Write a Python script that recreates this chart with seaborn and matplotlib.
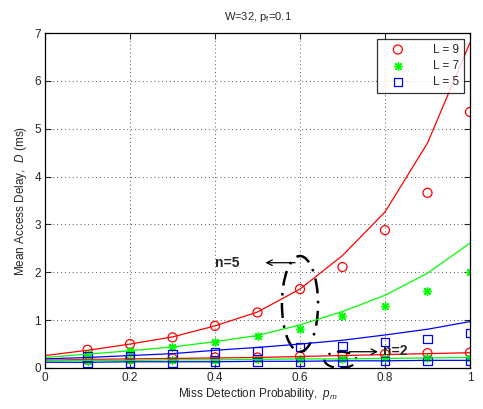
import numpy as np
import pandas as pd
import matplotlib
matplotlib.use("Agg")
import matplotlib.pyplot as plt
import seaborn as sns
from matplotlib.patches import Ellipse

# analysis curves, evaluated at p_m = 0, 0.1, ..., 1
p_line = [0.0, 0.1, 0.2, 0.3, 0.4, 0.5, 0.6, 0.7, 0.8, 0.9, 1.0]
line_n5_L9 = [0.26, 0.37, 0.50, 0.65, 0.88, 1.17, 1.65, 2.35, 3.26, 4.70, 6.80]
line_n5_L7 = [0.22, 0.29, 0.36, 0.44, 0.55, 0.68, 0.90, 1.18, 1.52, 1.98, 2.61]
line_n5_L5 = [0.19, 0.22, 0.26, 0.30, 0.37, 0.43, 0.50, 0.58, 0.69, 0.81, 0.97]
line_n2_L9 = [0.16, 0.18, 0.19, 0.20, 0.21, 0.22, 0.24, 0.26, 0.28, 0.30, 0.32]
line_n2_L7 = [0.15, 0.16, 0.16, 0.17, 0.17, 0.18, 0.19, 0.19, 0.20, 0.21, 0.22]
line_n2_L5 = [0.12, 0.12, 0.13, 0.13, 0.13, 0.14, 0.14, 0.15, 0.15, 0.16, 0.16]

# simulation results, at p_m = 0.1, ..., 1
p_sim = [0.1, 0.2, 0.3, 0.4, 0.5, 0.6, 0.7, 0.8, 0.9, 1.0]
sim_n5_L9 = [0.38, 0.50, 0.64, 0.88, 1.16, 1.65, 2.11, 2.88, 3.66, 5.35]
sim_n5_L7 = [0.29, 0.36, 0.43, 0.54, 0.66, 0.81, 1.09, 1.30, 1.60, 2.00]
sim_n5_L5 = [0.24, 0.25, 0.29, 0.34, 0.36, 0.44, 0.46, 0.54, 0.61, 0.73]
sim_n2_L9 = [0.17, 0.19, 0.20, 0.22, 0.22, 0.24, 0.26, 0.29, 0.31, 0.32]
sim_n2_L7 = [0.15, 0.16, 0.16, 0.17, 0.18, 0.18, 0.19, 0.20, 0.20, 0.21]
sim_n2_L5 = [0.10, 0.11, 0.11, 0.12, 0.12, 0.13, 0.13, 0.14, 0.14, 0.15]

x_ticks = [0, 0.2, 0.4, 0.6, 0.8, 1]
x_ticklabels = ["0", "0.2", "0.4", "0.6", "0.8", "1"]
y_ticks = [0, 1, 2, 3, 4, 5, 6, 7]

lines = pd.DataFrame({
    "p": p_line * 6,
    "D": line_n5_L9 + line_n5_L7 + line_n5_L5 + line_n2_L9 + line_n2_L7 + line_n2_L5,
    "L": ["L = 9"] * 11 + ["L = 7"] * 11 + ["L = 5"] * 11
         + ["L = 9"] * 11 + ["L = 7"] * 11 + ["L = 5"] * 11,
    "n": [5] * 33 + [2] * 33,
})
sims = pd.DataFrame({
    "p": p_sim * 6,
    "D": sim_n5_L9 + sim_n5_L7 + sim_n5_L5 + sim_n2_L9 + sim_n2_L7 + sim_n2_L5,
    "L": ["L = 9"] * 10 + ["L = 7"] * 10 + ["L = 5"] * 10
         + ["L = 9"] * 10 + ["L = 7"] * 10 + ["L = 5"] * 10,
    "n": [5] * 30 + [2] * 30,
})

sns.set_style("ticks")
plt.rcParams["font.family"] = ["Liberation Sans", "DejaVu Sans"]
plt.rcParams["mathtext.fontset"] = "custom"
plt.rcParams["mathtext.it"] = "Liberation Sans:italic"
plt.rcParams["mathtext.rm"] = "Liberation Sans"

palette = {"L = 9": "#ff0000", "L = 7": "#00ff00", "L = 5": "#0000ff"}
order = ["L = 9", "L = 7", "L = 5"]

fig = plt.figure(figsize=(4.83, 4.09), dpi=100)
ax = fig.add_axes([45 / 483, 41 / 409, 425 / 483, 335 / 409])

sns.lineplot(data=lines, x="p", y="D", hue="L", units="n", estimator=None,
             palette=palette, hue_order=order, lw=0.9, ax=ax, legend=False)

for lab in order:
    sub = sims[sims["L"] == lab]
    c = palette[lab]
    if lab == "L = 7":
        # asterisk drawn from strokes
        sns.scatterplot(data=sub, x="p", y="D", marker=(8, 2, 0), color=c, s=30,
                        linewidth=1.0, edgecolor=c, ax=ax, label=lab)
    else:
        sns.scatterplot(data=sub, x="p", y="D",
                        marker="o" if lab == "L = 9" else "s",
                        facecolor="none", edgecolor=c, s=42 if lab == "L = 9" else 36,
                        linewidth=0.9, ax=ax, label=lab)

ax.set_xlim(0, 1)
ax.set_ylim(0, 7)
ax.set_xticks(x_ticks)
ax.set_xticklabels(x_ticklabels)
ax.set_yticks(y_ticks)
ax.grid(True, color="#555555", linestyle=(0, (1, 3)), linewidth=0.7)
ax.tick_params(direction="in", top=True, right=True, length=4, labelsize=8.5,
               width=0.8, pad=3)
for s in ax.spines.values():
    s.set_linewidth(0.9)
    s.set_color("black")

ax.set_xlabel("Miss Detection Probability,  $p_m$", fontsize=8.5, labelpad=1)
ax.set_ylabel("Mean Access Delay,  $D$ (ms)", fontsize=8.5, labelpad=4)
ax.set_title("W=32, p$_\\mathregular{f}$=0.1", fontsize=8, pad=9)

leg = ax.legend(loc="upper right", fontsize=8.5, frameon=True, fancybox=False,
                edgecolor="black", borderpad=0.4, handletextpad=1.6,
                handlelength=2.8, labelspacing=0.35, borderaxespad=0.5,
                markerscale=1.0)
leg.get_frame().set_linewidth(0.9)

# group markers
ell5 = Ellipse((0.6, 1.34), width=0.085, height=2.0, angle=0, fill=False,
               edgecolor="black", linewidth=1.8, linestyle=(0, (6, 3, 1, 3)))
ax.add_patch(ell5)
ax.annotate("", xy=(0.512, 2.2), xytext=(0.595, 2.2),
            arrowprops=dict(arrowstyle="->", color="black", lw=0.9))
ax.text(0.40, 2.2, "n=5", fontsize=10, fontweight="bold", va="center", ha="left")

ell2 = Ellipse((0.695, 0.17), width=0.075, height=0.34, angle=0, fill=False,
               edgecolor="black", linewidth=1.6, linestyle=(0, (6, 3, 1, 3)))
ax.add_patch(ell2)
ax.annotate("", xy=(0.79, 0.34), xytext=(0.71, 0.34),
            arrowprops=dict(arrowstyle="->", color="black", lw=0.9))
ax.text(0.795, 0.36, "n=2", fontsize=10, fontweight="bold", va="center", ha="left")

fig.savefig("out.png", dpi=100)
